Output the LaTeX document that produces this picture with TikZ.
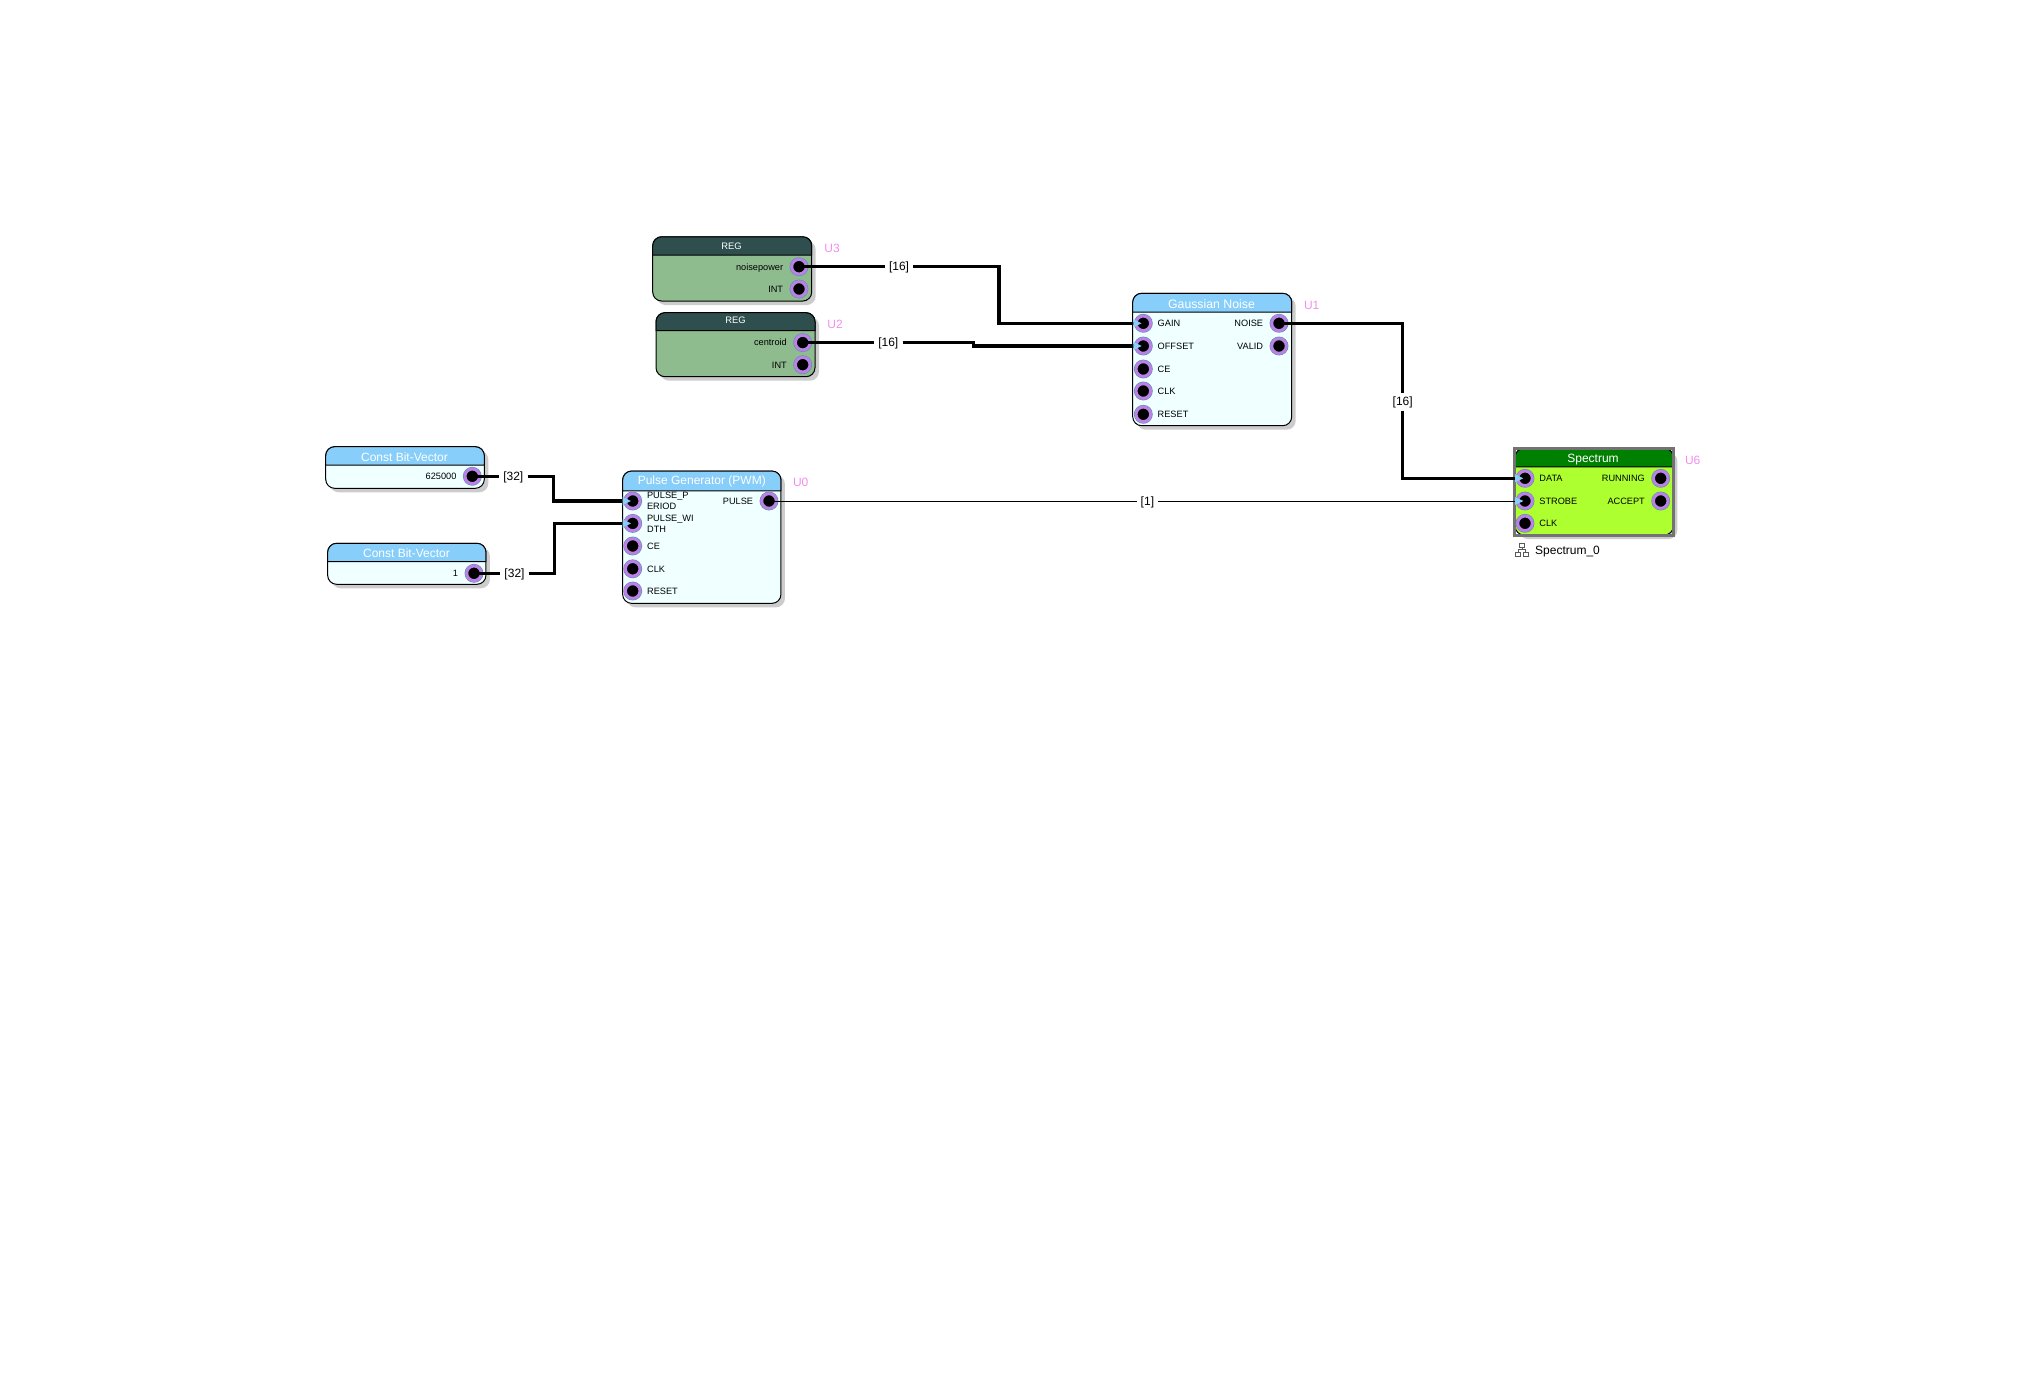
\documentclass[tikz,border=0pt]{standalone}
\usepackage{fontspec}
\setmainfont{Liberation Sans}
\usepackage{xcolor}
\usepackage{tikz}
\usetikzlibrary{arrows.meta,positioning,shadows}

\definecolor{skyhead}{HTML}{87CEFA}
\definecolor{skybody}{HTML}{F0FFFF}
\definecolor{reghead}{HTML}{2F4F4F}
\definecolor{regbody}{HTML}{8FBC8F}
\definecolor{spechead}{HTML}{008000}
\definecolor{specbody}{HTML}{ADFF2F}
\definecolor{portring}{HTML}{BA82E6}
\definecolor{tagpink}{HTML}{F48CF0}

\tikzset{
    block/.style={draw=black,line width=1pt,rounded corners=9pt,outer sep=0pt,inner sep=0pt,
        drop shadow={shadow xshift=4pt,shadow yshift=-4pt,fill=black!20,opacity=1}},
    blockedge/.style={draw=black,line width=1pt},
    blocktitle/.style={text=white,font=\fontsize{12}{14}\selectfont,inner sep=0pt},
    regtitle/.style={text=white,font=\fontsize{9.4}{11}\selectfont,inner sep=0pt},
    port/.style={circle,fill=black,draw=portring,line width=3pt,minimum size=14.6pt,inner sep=0pt,outer sep=0pt,
        preaction={draw=black!30!skyhead,line width=4.2pt}},
    portlbl/.style={font=\fontsize{9.2}{10.8}\selectfont,align=left,inner sep=0pt},
    onelbl/.style={portlbl,text height=6.6pt,text depth=0pt},
    taglbl/.style={text=tagpink,font=\fontsize{12}{14}\selectfont,inner sep=0pt},
    wirelbl/.style={fill=white,font=\fontsize{12}{14}\selectfont,inner xsep=4pt,inner ysep=4pt,text height=9pt,text depth=0.5pt},
    buswire/.style={draw=black,line width=3.2pt,-{Triangle[length=8.5pt,width=7.5pt,fill=skyhead,color=skyhead]},shorten >=1.5pt},
    bitwire/.style={draw=black,line width=1pt,-{Triangle[length=8.5pt,width=7.5pt,fill=skyhead,color=skyhead]},shorten >=1.5pt},
    outwire/.style={draw=black,line width=3.2pt},
    iconbox/.style={draw=black!65,line width=0.8pt,fill=white,minimum width=5pt,minimum height=4.5pt,inner sep=0pt,outer sep=0pt}
}

\newcommand{\blockhead}[3]{\draw[blockedge,fill=#3] ([yshift=-#2]#1.north west) [rounded corners=9pt] -- (#1.north west) -- (#1.north east) [sharp corners] -- ([yshift=-#2]#1.north east) -- cycle;}
\newcommand{\inport}[4]{\node[port] (#1) at (#2,#3) {}; \node[onelbl,right=6.9pt of #1] (#1lbl) {#4};}
\newcommand{\outport}[4]{\node[port] (#1) at (#2,#3) {}; \node[onelbl,left=8.4pt of #1] (#1lbl) {#4};}

\begin{document}
\begin{tikzpicture}[x=1pt,y=-1pt]
    \useasboundingbox (0,0) rectangle (2042,1373);

    % Registers
    \node[block,fill=regbody,minimum width=159pt,minimum height=64.3pt] (u3) at (732.2,268.9) {};
    \blockhead{u3}{18.3pt}{reghead}
    \node[regtitle] (u3title) at (731.5,246) {REG};
    \node[taglbl] (u3tag) at (832,248) {U3};
    \outport{u3noise}{799}{266.7}{noisepower}
    \outport{u3int}{799}{289}{INT}

    \node[block,fill=regbody,minimum width=159pt,minimum height=64pt] (u2) at (735.5,344.7) {};
    \blockhead{u2}{18pt}{reghead}
    \node[regtitle] (u2title) at (735.5,320.5) {REG};
    \node[taglbl] (u2tag) at (835,324) {U2};
    \outport{u2centroid}{802.7}{342.6}{centroid}
    \outport{u2int}{802.7}{364.7}{INT}

    % Gaussian noise
    \node[block,fill=skybody,minimum width=159pt,minimum height=132.4pt] (u1) at (1212.2,359.5) {};
    \blockhead{u1}{18.7pt}{skyhead}
    \node[blocktitle,font=\fontsize{12.3}{15}\selectfont] (u1title) at (1211.5,304) {Gaussian Noise};
    \node[taglbl] (u1tag) at (1311.7,305.5) {U1};
    \inport{u1gain}{1143.3}{323.3}{GAIN}
    \inport{u1offset}{1143.3}{346}{OFFSET}
    \inport{u1ce}{1143.3}{369}{CE}
    \inport{u1clk}{1143.3}{391}{CLK}
    \inport{u1reset}{1143.3}{414.3}{RESET}
    \outport{u1out}{1279}{323.3}{NOISE}
    \outport{u1valid}{1279}{346}{VALID}

    % Constants
    \node[block,fill=skybody,minimum width=158.6pt,minimum height=41.6pt] (c0) at (405,467.5) {};
    \blockhead{c0}{18.3pt}{skyhead}
    \node[blocktitle] (c0title) at (404.5,457.5) {Const Bit-Vector};
    \outport{c0val}{472.3}{476.3}{625000}

    \node[block,fill=skybody,minimum width=158.3pt,minimum height=41pt] (c1) at (406.8,563.8) {};
    \blockhead{c1}{18.4pt}{skyhead}
    \node[blocktitle] (c1title) at (406.5,553.5) {Const Bit-Vector};
    \outport{c1val}{474}{573.3}{1}

    % Pulse generator
    \node[block,fill=skybody,minimum width=158.3pt,minimum height=132.3pt] (u0) at (701.8,537.2) {};
    \blockhead{u0}{19.7pt}{skyhead}
    \node[blocktitle] (u0title) at (701.8,481.7) {Pulse Generator (PWM)};
    \node[taglbl] (u0tag) at (800.7,482.5) {U0};
    \node[port] (u0period) at (632.7,501) {};
    \node[portlbl,right=6.9pt of u0period] (u0periodlbl) {PULSE\_P\\ERIOD};
    \node[port] (u0width) at (632.7,523.4) {};
    \node[portlbl,right=6.9pt of u0width] (u0widthlbl) {PULSE\_WI\\DTH};
    \inport{u0ce}{632.7}{546}{CE}
    \inport{u0clk}{632.7}{568.8}{CLK}
    \inport{u0reset}{632.7}{591}{RESET}
    \outport{u0pulse}{769}{501}{PULSE}

    % Spectrum
    \node[block,fill=specbody,minimum width=158.3pt,minimum height=86.7pt] (u6) at (1594.2,491.7) {};
    \blockhead{u6}{18.4pt}{spechead}
    \draw[black!55,line width=3pt] (1514.2,448) rectangle (1673.7,535.7);
    \node[blocktitle] (u6title) at (1593,459.5) {Spectrum};
    \node[taglbl] (u6tag) at (1692.7,460.7) {U6};
    \inport{u6data}{1525}{478.3}{DATA}
    \inport{u6strobe}{1525}{501}{STROBE}
    \inport{u6clk}{1525}{523.3}{CLK}
    \outport{u6running}{1660.7}{478.3}{RUNNING}
    \outport{u6accept}{1660.7}{501}{ACCEPT}

    % Instance name and icon
    \node[font=\fontsize{12}{14}\selectfont,anchor=west,inner sep=0pt] (u6name) at (1535,551.7) {Spectrum\_0};
    \node[iconbox] (icontop) at (1522,545.5) {};
    \node[iconbox] (iconleft) at (1518.2,554.5) {};
    \node[iconbox] (iconright) at (1525.8,554.5) {};
    \coordinate (iconmid) at (1522,549.5);
    \draw[black!65,line width=0.7pt] (icontop) -- (iconmid);
    \draw[black!65,line width=0.7pt] (iconleft) |- (iconmid) -| (iconright);

    % Wire labels
    \node[wirelbl] (w3lbl) at (899,266.7) {[16]};
    \node[wirelbl] (w2lbl) at (888.3,342.6) {[16]};
    \node[wirelbl] (w6lbl) at (1402.7,401.7) {[16]};
    \node[wirelbl] (w0lbl) at (513.3,476.3) {[32]};
    \node[wirelbl] (w1lbl) at (514.5,573.3) {[32]};
    \node[wirelbl] (wplbl) at (1147.4,501) {[1]};

    % Wires
    \coordinate (w3bend) at (998.9,266.7);
    \coordinate (w2bend) at (973.3,342.6);
    \coordinate (w0bend) at (553.3,476.3);
    \coordinate (w1bend) at (554.3,573.3);
    \draw[buswire] (u3noise.center) -- (w3lbl) -- (w3bend) |- (u1gain.center);
    \draw[buswire] (u2centroid.center) -- (w2lbl) -- (w2bend) |- (u1offset.center);
    \draw[outwire] (u1out.center) -| (w6lbl);
    \draw[buswire] (w6lbl) |- (u6data.center);
    \draw[buswire] (c0val.center) -- (w0lbl) -- (w0bend) |- (u0period.center);
    \draw[buswire] (c1val.center) -- (w1lbl) -- (w1bend) |- (u0width.center);
    \draw[bitwire] (u0pulse.center) -- (wplbl) -- (u6strobe.center);
\end{tikzpicture}
\end{document}
